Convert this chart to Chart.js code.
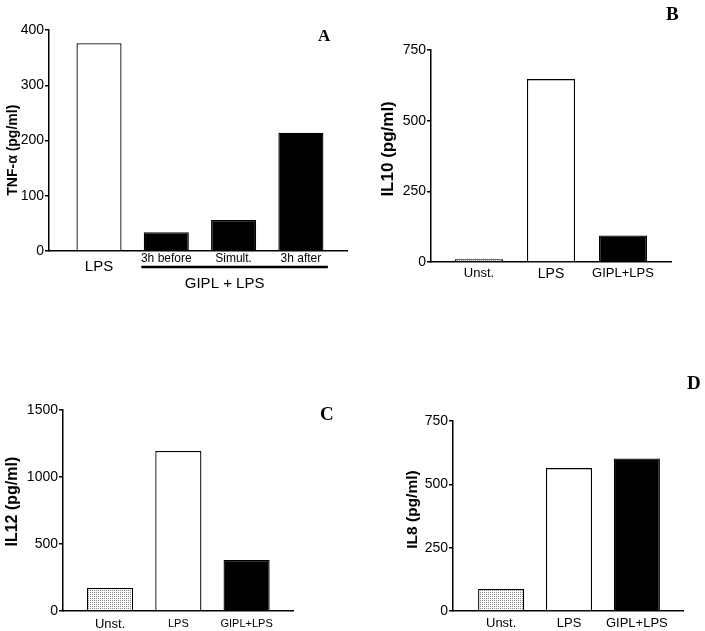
<!DOCTYPE html>
<html>
<head>
<meta charset="utf-8">
<script src="https://cdn.jsdelivr.net/npm/chart.js@4.4.0/dist/chart.umd.min.js"></script>
<style>
  html, body { margin: 0; padding: 0; background: #fff; }
  body { width: 705px; height: 631px; position: relative; overflow: hidden; }
  .wrap { position: absolute; }
  .letter { position: absolute; font-family: "Liberation Serif", "Times New Roman", serif; font-weight: bold; color: #000; line-height: 1; }
</style>
</head>
<body>
<div class="wrap" id="wA" style="left:0px;top:0px;width:352px;height:300px;"><canvas id="cA"></canvas></div>
<div class="wrap" id="wB" style="left:375px;top:0px;width:330px;height:300px;"><canvas id="cB"></canvas></div>
<div class="wrap" id="wC" style="left:0px;top:320px;width:350px;height:311px;"><canvas id="cC"></canvas></div>
<div class="wrap" id="wD" style="left:400px;top:320px;width:305px;height:311px;"><canvas id="cD"></canvas></div>
<div class="letter" style="left:318px;top:27px;font-size:17px;">A</div>
<div class="letter" style="left:666px;top:4px;font-size:19px;">B</div>
<div class="letter" style="left:320px;top:404px;font-size:19px;">C</div>
<div class="letter" style="left:687px;top:373px;font-size:19px;">D</div>
<script>
// ---- Data ----
const catsA = ["LPS", "3h before", "Simult.", "3h after"];
const valsA = [376, 34, 56, 214];
const ticksA = [0, 100, 200, 300, 400];
const groupLabelA = "GIPL + LPS";

const catsB = ["Unst.", "LPS", "GIPL+LPS"];
const valsB = [10, 647, 94];
const ticksB = [0, 250, 500, 750];

const catsC = ["Unst.", "LPS", "GIPL+LPS"];
const valsC = [172, 1194, 381];
const ticksC = [0, 500, 1000, 1500];

const catsD = ["Unst.", "LPS", "GIPL+LPS"];
const valsD = [87, 564, 602];
const ticksD = [0, 250, 500, 750];

// ---- Styles ----
function dotPattern() {
  const c = document.createElement('canvas');
  c.width = 2; c.height = 2;
  const g = c.getContext('2d');
  g.fillStyle = '#ffffff'; g.fillRect(0, 0, 2, 2);
  g.fillStyle = '#8a8a8a'; g.fillRect(0, 0, 1, 1);
  return g.createPattern(c, 'repeat');
}
const PAT = dotPattern();
const FONT = "'Liberation Sans', Arial, sans-serif";
const NB = '\u00A0';

function makeChart(id, cfg) {
  const labels = cfg.cats;
  const data = cfg.vals.map((v, i) => ({ x: i, y: v }));
  const tickVals = cfg.ticks;
  return new Chart(document.getElementById(id), {
    type: 'bar',
    data: {
      datasets: [{
        data: data,
        backgroundColor: cfg.colors,
        borderColor: '#000',
        borderWidth: 1.3,
        borderSkipped: 'bottom',
        categoryPercentage: 1,
        barPercentage: cfg.barPct
      }]
    },
    options: {
      responsive: true,
      maintainAspectRatio: false,
      animation: false,
      events: [],
      layout: { padding: { left: 0, top: cfg.padTop, right: cfg.padRight, bottom: 0 } },
      plugins: { legend: { display: false }, tooltip: { enabled: false } },
      scales: {
        x: {
          type: 'linear',
          offset: false,
          min: cfg.xmin, max: cfg.xmax,
          afterBuildTicks: (s) => { s.ticks = labels.map((_, i) => ({ value: i })); },
          afterFit: (s) => { s.height = cfg.xH; },
          grid: { display: false, drawTicks: false, offset: false },
          border: { display: true, color: '#000', width: 1.5 },
          ticks: {
            autoSkip: false, maxRotation: 0, padding: cfg.xPad, color: '#000',
            callback: (v) => labels[v] !== undefined ? labels[v] : '',
            font: (ctx) => {
              const idx = ctx.tick ? ctx.tick.value : 0;
              const f = { family: FONT, size: cfg.catSizes[idx] || 13 };
              if (cfg.catLH) f.lineHeight = cfg.catLH[idx] + 'px';
              return f;
            }
          }
        },
        y: {
          min: 0, max: tickVals[tickVals.length - 1],
          afterBuildTicks: (s) => { s.ticks = tickVals.map(v => ({ value: v })); },
          afterFit: (s) => { s.width = cfg.yW; },
          grid: { display: true, drawOnChartArea: false, drawTicks: true, tickLength: 4, color: '#000', lineWidth: 1.5 },
          border: { display: true, color: '#000', width: 1.5 },
          ticks: { padding: 1, color: '#000', font: { family: FONT, size: cfg.tickSize }, callback: (v) => String(v) },
          title: {
            display: true, text: cfg.title, align: 'center', color: '#000',
            font: { family: FONT, size: cfg.titleSize, weight: 'bold' }, padding: { top: cfg.titlePad, bottom: 0 }
          }
        }
      }
    },
    plugins: cfg.plugins || []
  });
}

// bracket for panel A
const bracketPlugin = {
  id: 'bracketA',
  afterDraw(chart) {
    const xs = chart.scales.x;
    const ctx = chart.ctx;
    const x1 = xs.getPixelForValue(1) - 25;
    const x2 = xs.getPixelForValue(3) + 27;
    const y = chart.chartArea.bottom + 16;
    ctx.save();
    ctx.strokeStyle = '#000';
    ctx.lineWidth = 2.5;
    ctx.beginPath(); ctx.moveTo(x1, y); ctx.lineTo(x2, y); ctx.stroke();
    ctx.fillStyle = '#000';
    ctx.font = "15px " + FONT;
    ctx.textAlign = 'center';
    ctx.textBaseline = 'middle';
    ctx.fillText(groupLabelA, (x1 + x2) / 2 - 10, y + 17);
    ctx.restore();
  }
};

makeChart('cA', {
  cats: catsA, vals: valsA, ticks: ticksA,
  colors: ['#fff', '#000', '#000', '#000'],
  barPct: 0.67, xmin: -0.743, xmax: 3.685,
  padTop: 30, padRight: 5, yW: 49, xH: 49, xPad: 2,
  catSizes: [15, 12, 12, 12], catLH: [28, 11, 11, 11], tickSize: 14,
  title: 'TNF-α (pg/ml)' + NB.repeat(5), titleSize: 14, titlePad: 5,
  plugins: [bracketPlugin]
});
makeChart('cB', {
  cats: catsB, vals: valsB, ticks: ticksB,
  colors: [PAT, '#fff', '#000'],
  barPct: 0.667, xmin: -0.667, xmax: 2.667,
  padTop: 50, padRight: 34, yW: 56, xH: 38, xPad: 4,
  catSizes: [13, 14, 13], tickSize: 14,
  title: NB.repeat(3) + 'IL10 (pg/ml)', titleSize: 17, titlePad: 3
});
makeChart('cC', {
  cats: catsC, vals: valsC, ticks: ticksC,
  colors: [PAT, '#fff', '#000'],
  barPct: 0.676, xmin: -0.69, xmax: 2.68,
  padTop: 90, padRight: 57, yW: 63, xH: 20, xPad: 6,
  catSizes: [13, 11, 11], tickSize: 14,
  title: NB.repeat(4) + 'IL12 (pg/ml)', titleSize: 16, titlePad: 3
});
makeChart('cD', {
  cats: catsD, vals: valsD, ticks: ticksD,
  colors: [PAT, '#fff', '#000'],
  barPct: 0.68, xmin: -0.71, xmax: 2.68,
  padTop: 101, padRight: 22, yW: 53, xH: 20, xPad: 5,
  catSizes: [13, 13, 13], tickSize: 14,
  title: NB.repeat(3) + 'IL8 (pg/ml)', titleSize: 15.5, titlePad: 3
});
</script>
</body>
</html>
